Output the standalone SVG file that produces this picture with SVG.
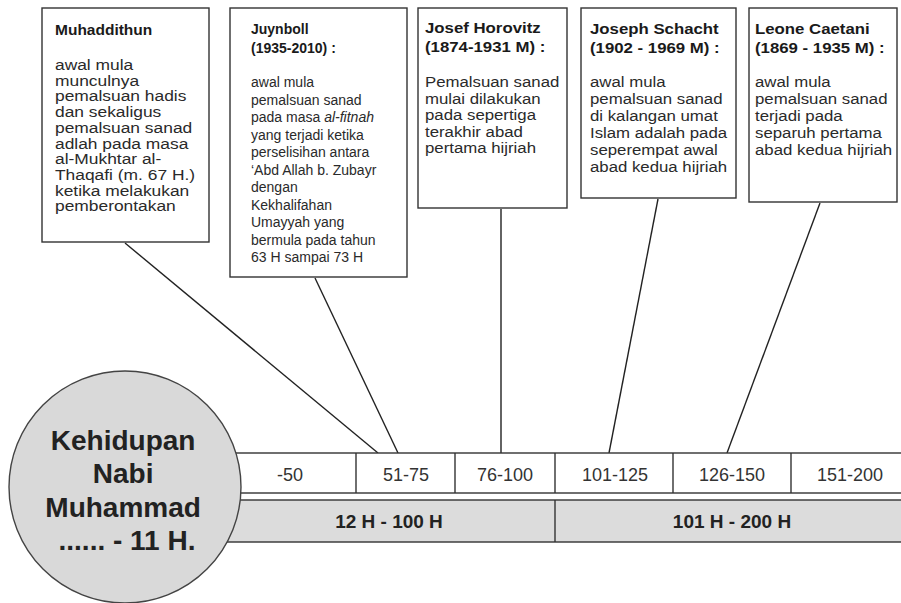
<svg xmlns="http://www.w3.org/2000/svg" width="901" height="603" viewBox="0 0 901 603">
<style>
.box{fill:#fff;stroke:#333;stroke-width:1.4}
text{font-family:"Liberation Sans",Arial,sans-serif}
.t{fill:#2a2a2a}
.ti{font-weight:bold;fill:#1a1a1a}
.b1{font-size:14.5px}
.b2{font-size:14px}
.b3{font-size:15px}
.cell{fill:#fff;stroke:#333;stroke-width:1.4}
.grey{fill:#dcdcdc;stroke:#333;stroke-width:1.4}
.div{stroke:#333;stroke-width:1.4}
.ct{font-size:18px;fill:#333;text-anchor:middle}
.gt{font-size:19px;font-weight:bold;fill:#222;text-anchor:middle}
.conn line{stroke:#222;stroke-width:1.4}
</style>
<rect width="901" height="603" fill="#fff"/>
<g id="connectors" class="conn">
<line x1="125" y1="243" x2="378" y2="453"/>
<line x1="315" y1="278" x2="398" y2="453"/>
<line x1="501" y1="209" x2="501" y2="453"/>
<line x1="658" y1="199" x2="609" y2="453"/>
<line x1="820" y1="203" x2="727" y2="453"/>
</g>
<g id="timeline">
<rect class="cell" x="200" y="453" width="710" height="40"/>
<line class="div" x1="356" y1="453" x2="356" y2="493"/>
<line class="div" x1="455" y1="453" x2="455" y2="493"/>
<line class="div" x1="555" y1="453" x2="555" y2="493"/>
<line class="div" x1="673" y1="453" x2="673" y2="493"/>
<line class="div" x1="791" y1="453" x2="791" y2="493"/>
<rect class="grey" x="200" y="500" width="710" height="42"/>
<line class="div" x1="555" y1="500" x2="555" y2="542"/>
<text class="ct" x="290" y="481">-50</text>
<text class="ct" x="406" y="481">51-75</text>
<text class="ct" x="505" y="481">76-100</text>
<text class="ct" x="615" y="481">101-125</text>
<text class="ct" x="732" y="481">126-150</text>
<text class="ct" x="850" y="481">151-200</text>
<text class="gt" x="389" y="528">12 H - 100 H</text>
<text class="gt" x="732" y="528">101 H - 200 H</text>
</g>
<g id="nabi">
<circle cx="125" cy="487" r="116" fill="#d9d9d9" stroke="#444" stroke-width="1.4"/>
<text font-size="28" font-weight="bold" fill="#222" text-anchor="middle">
<tspan x="127" y="450">Kehidupan</tspan>
<tspan x="127" y="483">Nabi</tspan>
<tspan x="127" y="517">Muhammad</tspan>
<tspan x="127" y="550">...... - 11 H.</tspan>
</text>
</g>
<g id="muhaddithun" class="t b1">
<rect class="box" x="42" y="8" width="167" height="234"/>
<text class="ti" x="55" y="35" font-size="15.5">Muhaddithun</text>
<text transform="matrix(1.2 0 0 1 -11 0)"><tspan x="55" y="70">awal mula</tspan>
<tspan x="55" y="86">munculnya</tspan>
<tspan x="55" y="101">pemalsuan hadis</tspan>
<tspan x="55" y="117">dan sekaligus</tspan>
<tspan x="55" y="133">pemalsuan sanad</tspan>
<tspan x="55" y="149">adlah pada masa</tspan>
<tspan x="55" y="164">al-Mukhtar al-</tspan>
<tspan x="55" y="180">Thaqafi (m. 67 H.)</tspan>
<tspan x="55" y="196">ketika melakukan</tspan>
<tspan x="55" y="211">pemberontakan</tspan></text>
</g>
<g id="juynboll" class="t b2">
<rect class="box" x="230" y="8" width="177" height="269"/>
<text><tspan class="ti" x="251" y="34">Juynboll</tspan>
<tspan class="ti" x="251" y="53">(1935-2010) :</tspan>
<tspan x="251" y="87">awal mula</tspan>
<tspan x="251" y="104.5">pemalsuan sanad</tspan>
<tspan x="251" y="122">pada masa <tspan font-style="italic">al-fitnah</tspan></tspan>
<tspan x="251" y="139.5">yang terjadi ketika</tspan>
<tspan x="251" y="157">perselisihan antara</tspan>
<tspan x="251" y="174.5">‘Abd Allah b. Zubayr</tspan>
<tspan x="251" y="192">dengan</tspan>
<tspan x="251" y="209.5">Kekhalifahan</tspan>
<tspan x="251" y="227">Umayyah yang</tspan>
<tspan x="251" y="244.5">bermula pada tahun</tspan>
<tspan x="251" y="262">63 H sampai 73 H</tspan></text>
</g>
<g id="horovitz" class="t b3">
<rect class="box" x="418" y="8" width="149" height="200"/>
<text transform="matrix(1.12 0 0 1 -51 0)"><tspan class="ti" x="425" y="33">Josef Horovitz</tspan>
<tspan class="ti" x="425" y="52">(1874-1931 M) :</tspan>
<tspan x="425" y="87">Pemalsuan sanad</tspan>
<tspan x="425" y="104">mulai dilakukan</tspan>
<tspan x="425" y="120">pada sepertiga</tspan>
<tspan x="425" y="137">terakhir abad</tspan>
<tspan x="425" y="153">pertama hijriah</tspan></text>
</g>
<g id="schacht" class="t b3">
<rect class="box" x="581" y="8" width="155" height="190"/>
<text transform="matrix(1.12 0 0 1 -70.8 0)"><tspan class="ti" x="590" y="34">Joseph Schacht</tspan>
<tspan class="ti" x="590" y="53">(1902 - 1969 M) :</tspan>
<tspan x="590" y="87">awal mula</tspan>
<tspan x="590" y="104">pemalsuan sanad</tspan>
<tspan x="590" y="121">di kalangan umat</tspan>
<tspan x="590" y="138">Islam adalah pada</tspan>
<tspan x="590" y="155">seperempat awal</tspan>
<tspan x="590" y="172">abad kedua hijriah</tspan></text>
</g>
<g id="caetani" class="t b3">
<rect class="box" x="749" y="8" width="148" height="194"/>
<text transform="matrix(1.12 0 0 1 -90.6 0)"><tspan class="ti" x="755" y="34">Leone Caetani</tspan>
<tspan class="ti" x="755" y="53">(1869 - 1935 M) :</tspan>
<tspan x="755" y="87">awal mula</tspan>
<tspan x="755" y="104">pemalsuan sanad</tspan>
<tspan x="755" y="121">terjadi pada</tspan>
<tspan x="755" y="138">separuh pertama</tspan>
<tspan x="755" y="155">abad kedua hijriah</tspan></text>
</g>
</svg>
